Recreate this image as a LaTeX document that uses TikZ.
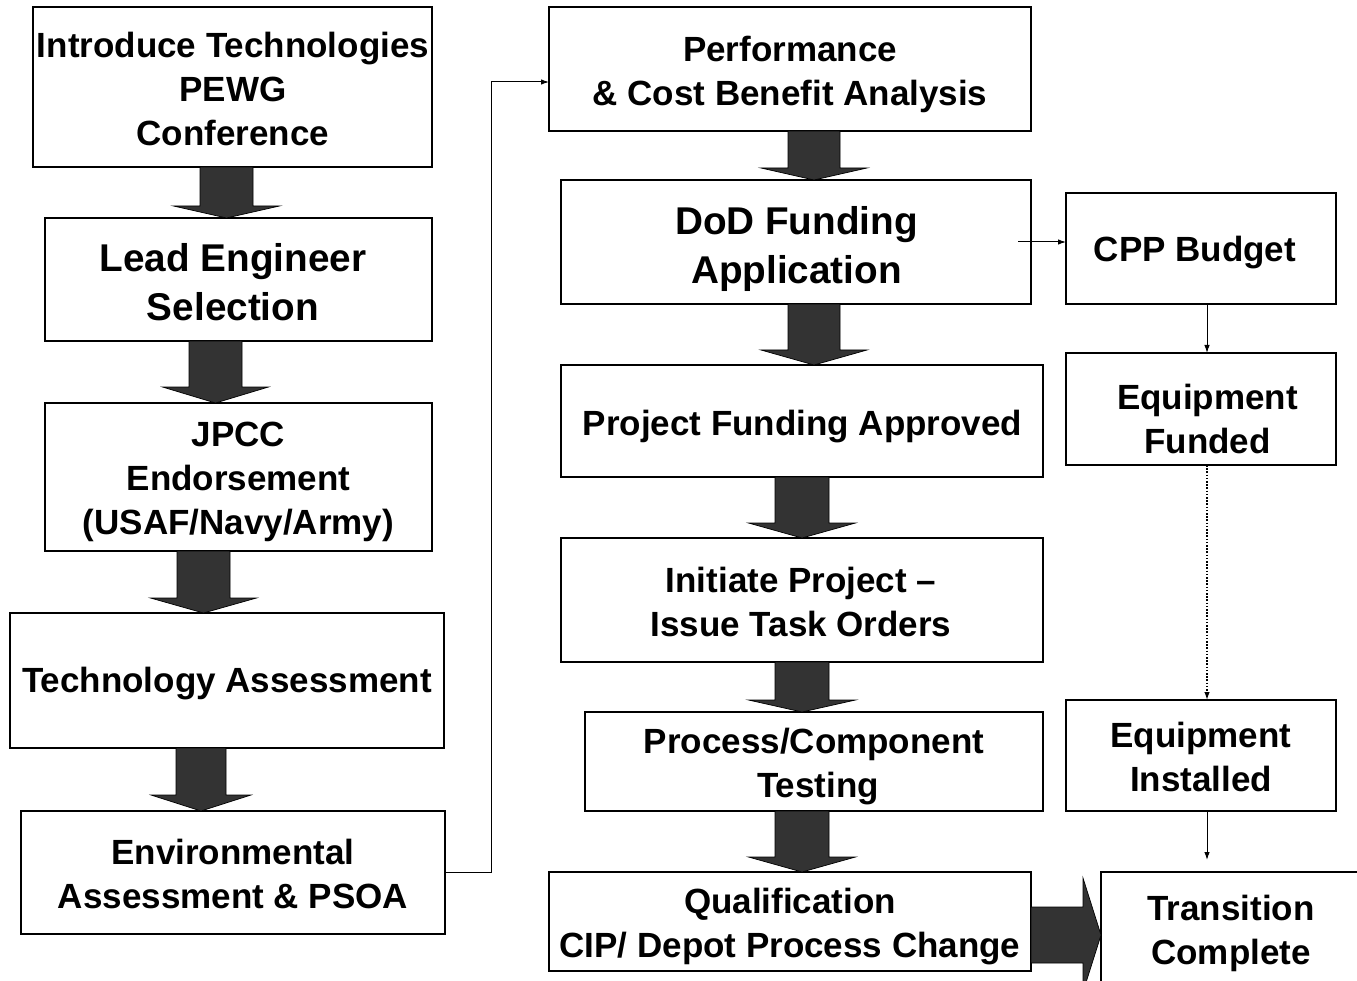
\documentclass[tikz,border=0pt]{standalone}
\usepackage{fontspec}
\setmainfont{Liberation Sans}
\usetikzlibrary{arrows.meta,calc}
\definecolor{arrowgray}{HTML}{333333}
\tikzset{
  box/.style={draw=black, line width=1.6pt, inner sep=0pt, outer sep=0pt},
  txt/.style={align=center, inner sep=0pt, text depth=0pt, font=\bfseries\fontsize{35}{44}\selectfont},
  bigtxt/.style={txt, font=\bfseries\fontsize{38.7}{49.5}\selectfont},
  blockarrow/.style={fill=arrowgray, draw=black, line width=0.7pt, line join=miter},
  conn/.style={draw=black, line width=1pt, -{Latex[length=8pt,width=5.5pt]}},
  dotconn/.style={conn, line width=1.3pt, dash pattern=on 1.6pt off 1.6pt},
}
\newcommand\mkbox[5]{\node[box, minimum width={#4-#2}, minimum height={#5-#3}] (#1) at ({(#2+#4)/2},{(#3+#5)/2}) {};}
\newcommand\blockdown[6]{%
  \coordinate (bx) at (#3,0);
  \path (#1.south -| bx) coordinate (bs) (#2.north -| bx) coordinate (bt);
  \filldraw[blockarrow] ($(bs)+(-#4,0)$) -- ($(bt)+(-#4,-#6)$) -- ($(bt)+(-#5,-#6)$) -- (bt)
    -- ($(bt)+(#5,-#6)$) -- ($(bt)+(#4,-#6)$) -- ($(bs)+(#4,0)$) -- cycle;}
\begin{document}
\begin{tikzpicture}[x=1pt,y=-1pt]
\useasboundingbox (0,0) rectangle (1357,981);
\clip (0,0) rectangle (1357,981);
% boxes
\mkbox{b1}{33}{7}{432}{167}
\mkbox{b2}{45}{218}{432}{341}
\mkbox{b3}{45}{403}{432}{551}
\mkbox{b4}{10}{613}{444}{748}
\mkbox{b5}{21}{811}{445}{934}
\mkbox{bP}{549}{7}{1031}{131}
\mkbox{bD}{561}{180}{1031}{304}
\mkbox{bC}{1066}{193}{1336}{304}
\mkbox{bPF}{561}{365}{1043}{477}
\mkbox{bEF}{1066}{353}{1336}{465}
\mkbox{bIP}{561}{538}{1043}{662}
\mkbox{bPCT}{585}{712}{1043}{811}
\mkbox{bEI}{1066}{700}{1336}{811}
\mkbox{bQ}{549}{872}{1031}{971}
\mkbox{bTC}{1101}{872}{1365}{1000}
% block arrows
\blockdown{b1}{b2}{226.5}{26.5}{53}{12}
\blockdown{b2}{b3}{215.5}{26.5}{53}{16}
\blockdown{b3}{b4}{203.5}{26.5}{53}{15}
\blockdown{b4}{b5}{201}{25}{50}{16}
\blockdown{bP}{bD}{814}{26}{53}{12}
\blockdown{bD}{bPF}{814}{26}{53}{15}
\blockdown{bPF}{bIP}{802}{27}{53.5}{15}
\blockdown{bIP}{bPCT}{802}{27}{53.5}{12}
\blockdown{bPCT}{bQ}{802}{27}{53.5}{15}
\coordinate (hy) at (0,935);
\path (bQ.east |- hy) coordinate (hs) (bTC.west |- hy) coordinate (ht);
\filldraw[blockarrow] ($(hs)+(0,-28)$) -- ($(ht)+(-18,-28)$) -- ($(ht)+(-18,-57)$) -- (ht)
  -- ($(ht)+(-18,57)$) -- ($(ht)+(-18,28)$) -- ($(hs)+(0,28)$) -- cycle;
% thin connectors
\draw[conn] (b5.east) -- ++(46,0) |- ([yshift=-13pt]bP.west);
\draw[conn] ([xshift=-13pt]bD.east) -- (bD.east -| bC.west);
\draw[conn] ([xshift=6pt]bC.south) -- ([xshift=6pt]bEF.north);
\draw[dotconn] ([xshift=6pt]bEF.south) -- ([xshift=6pt]bEI.north);
\coordinate (tcin) at (1207,860);
\draw[conn] ([xshift=6pt]bEI.south) -- (tcin);
% texts
\node[txt] (t1) at (233,89) {Introduce Technologies\\PEWG\\Conference};
\node[bigtxt] (t2) at (233,282) {Lead Engineer\\Selection};
\node[txt] (t3) at (238.5,478) {JPCC\\Endorsement\\(USAF/Navy/Army)};
\node[txt] (t4) at (227,680) {Technology Assessment};
\node[txt] (t5) at (233,874) {Environmental\\Assessment \& PSOA};
\node[txt] (tP) at (790,71) {Performance\\\& Cost Benefit Analysis};
\node[bigtxt] (tD) at (796.5,245) {DoD Funding\\Application};
\node[txt] (tC) at (1195,249) {CPP Budget};
\node[txt] (tPF) at (802.5,423) {Project Funding Approved};
\node[txt] (tEF) at (1207.5,419) {Equipment\\Funded};
\node[txt] (tIP) at (801,602) {Initiate Project --\\Issue Task Orders};
\node[txt] (tPCT) at (814,763) {Process/Component\\\hspace*{8pt}Testing};
\node[txt] (tEI) at (1201,757) {Equipment\\Installed};
\node[txt] (tQ) at (790,923) {Qualification\\CIP/ Depot Process Change};
\node[txt] (tTC) at (1231,930) {Transition\\Complete};
\end{tikzpicture}
\end{document}
